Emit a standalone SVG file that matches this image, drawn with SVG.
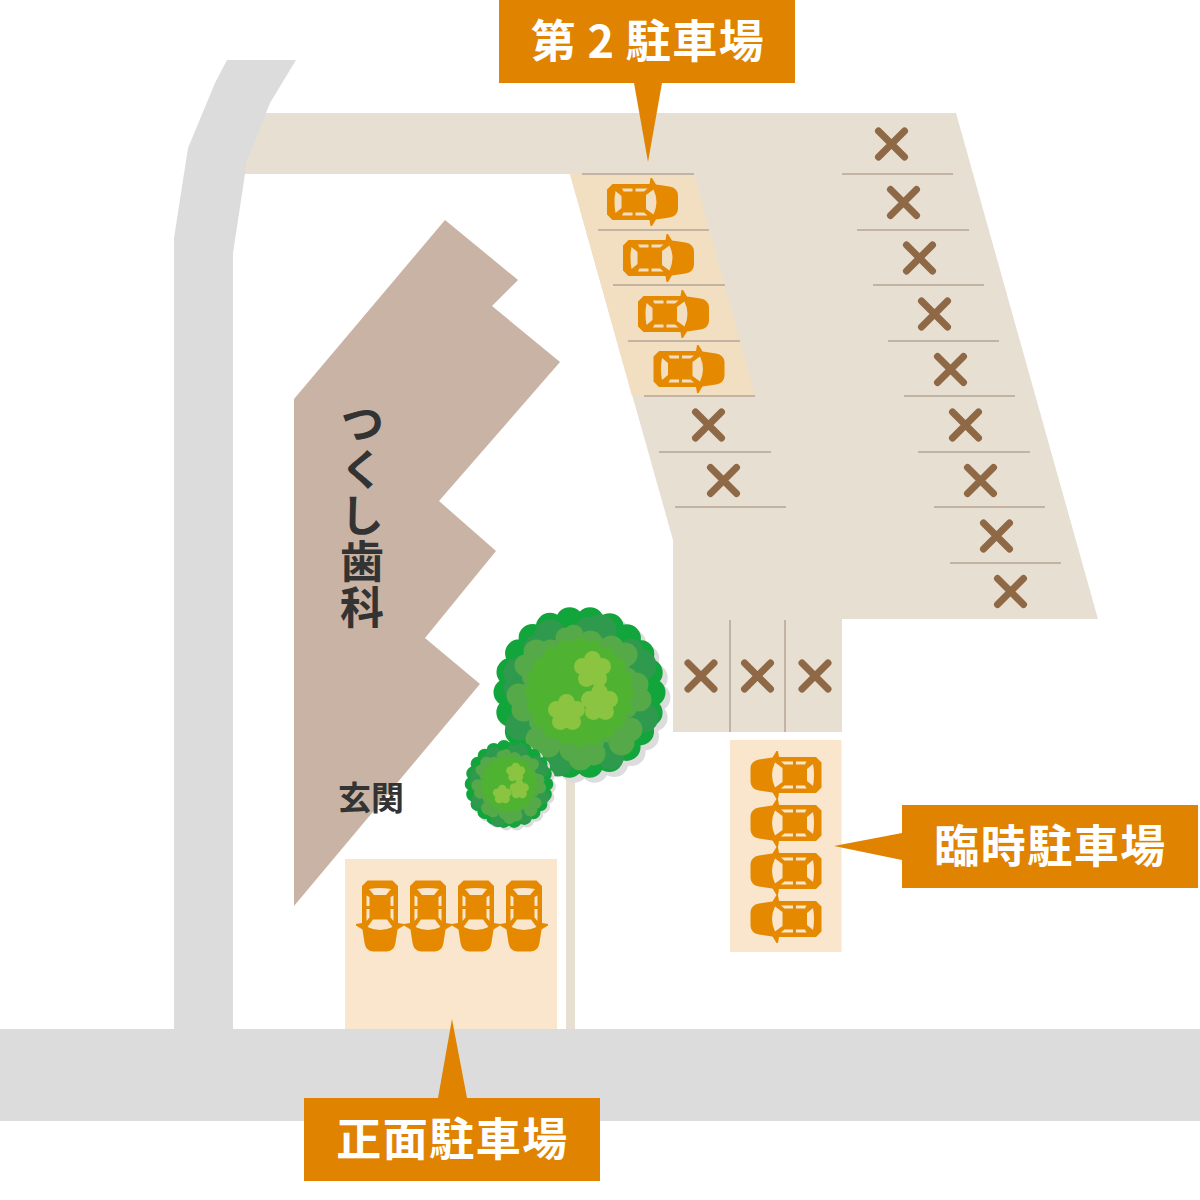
<svg xmlns="http://www.w3.org/2000/svg" xmlns:xlink="http://www.w3.org/1999/xlink" width="1200" height="1200" viewBox="0 0 1200 1200">
<style>
.road{fill:#dcdcdc}
.lot{fill:#e6dfd2}
.sl{stroke:#c3b3a3;stroke-width:2;fill:none}
.x{stroke:#8f6846;stroke-width:7;stroke-linecap:round;fill:none}
.lab{fill:#e08300}
.lt{fill:#fff;font-family:"Noto Sans CJK JP","Noto Sans",sans-serif;font-weight:700;font-size:45px;letter-spacing:1.500px;text-anchor:middle}
.dk{fill:#333;font-family:"Noto Sans CJK JP","Noto Sans",sans-serif;font-weight:700}
</style>
<defs>
<path id="xm" class="x" d="M-13,-13L13,13M13,-13L-13,13"/>
<g id="car">
<path fill="#e58a00" d="M-30,-18H7L8,-24L9.500,-24L13.500,-17.500L27,-15.500Q35,-14 35.500,-7V7Q35,14 27,15.500L13.500,17.500L9.500,24L8,24L7,18H-30L-35.500,12.500V-12.500Z"/>
<g fill="currentColor">
<path d="M3.500,-7L11,-12.500Q17,0 11,12.500L3.500,7Z"/>
<path d="M-27,-11L-21,-6V6L-27,11Q-29,0 -27,-11Z"/>
<path d="M-20.500,-13.500H-10V-10.500H-19Z"/>
<path d="M-7,-13.500H5L1.500,-10.500H-7Z"/>
<path d="M-20.500,13.500H-10V10.500H-19Z"/>
<path d="M-7,13.500H5L1.500,10.500H-7Z"/>
</g>
</g>
<g id="blob">
<circle r="72"/>
<circle r="72" fill="none" stroke="currentColor" stroke-width="28" stroke-linecap="round" stroke-dasharray="0 20.550"/>
</g>
<g id="flower"><circle r="11"/><circle cy="-10" r="8.500"/><circle cx="10" cy="-3" r="8.500"/><circle cx="6" cy="9" r="8.500"/><circle cx="-6" cy="9" r="8.500"/><circle cx="-10" cy="-3" r="8.500"/></g>
<g id="tree">
<use xlink:href="#blob" href="#blob" x="5" y="5" fill="#dcdcdc" color="#dcdcdc"/>
<use xlink:href="#blob" href="#blob" fill="#12a53c" color="#12a53c"/>
<g fill="#2f9a4e">
<circle cx="-29" cy="-57" r="16"/><circle cx="-42" cy="-44" r="14"/><circle cx="21" cy="-62" r="16"/><circle cx="8" cy="-64" r="12"/><circle cx="-61" cy="-20" r="15"/><circle cx="-64" cy="-4" r="12"/><circle cx="61" cy="-27" r="16"/><circle cx="52" cy="-42" r="12"/><circle cx="-59" cy="33" r="15"/><circle cx="64" cy="25" r="15"/><circle cx="31" cy="63" r="14"/><circle cx="-21" cy="70" r="14"/>
</g>
<circle r="50" fill="#56a948"/>
<circle r="50" fill="none" stroke="#56a948" stroke-width="20" stroke-linecap="round" stroke-dasharray="0 15.700"/>
<g fill="#56a948">
<circle cx="-43" cy="-40" r="13"/><circle cx="-54" cy="-27" r="11"/><circle cx="-61" cy="3" r="12"/><circle cx="-56" cy="17" r="12"/><circle cx="-41" cy="47" r="13"/><circle cx="-31" cy="53" r="12"/><circle cx="-8" cy="57" r="12"/><circle cx="1" cy="66" r="12"/><circle cx="14" cy="61" r="12"/><circle cx="42" cy="50" r="13"/><circle cx="51" cy="37" r="12"/><circle cx="60" cy="7" r="12"/><circle cx="57" cy="-8" r="12"/><circle cx="46" cy="-38" r="12"/><circle cx="32" cy="-45" r="12"/><circle cx="11" cy="-50" r="12"/><circle cx="-6" cy="-58" r="10"/><circle cx="-14" cy="-55" r="10"/><circle cx="-29" cy="-42" r="11"/>
</g>
<circle r="46" fill="#4fb331"/>
<circle r="46" fill="none" stroke="#4fb331" stroke-width="17" stroke-linecap="round" stroke-dasharray="0 14.450"/>
<g fill="#8bc440">
<use xlink:href="#flower" href="#flower" transform="translate(13,-23)"/>
<use xlink:href="#flower" href="#flower" transform="translate(20,10)"/>
<use xlink:href="#flower" href="#flower" transform="translate(-13,20)"/>
</g>
</g>
</defs>
<g id="parking-lot">
<path class="lot" d="M255,113H956L1098,619H842V732H673V540L570,174H240Z"/>
<path fill="#f2dfc1" d="M570,174H694L755,396H632Z"/>
<rect x="566" y="770" width="9" height="260" fill="#e6dfd2"/>
</g>
<g id="roads">
<rect class="road" x="0" y="1029" width="1200" height="92"/>
<path class="road" d="M227,60H296L270,103L246,163L245,174L233,253V1030H174V238L188,148L215,83Z"/>
</g>
<g id="parking-lines">
<path class="sl" d="M582,174H694M598,230H709M613,285H725M628,341H740M644,396H755M659,452H771M675,507H786M842,174H953M857,230H969M873,285H984M888,341H999M904,396H1015M918,452H1030M934,507H1045M950,563H1061M730,620V732M785,620V732"/>
</g>
<g id="blocked-spaces">
<use xlink:href="#xm" href="#xm" x="891.500" y="144"/>
<use xlink:href="#xm" href="#xm" x="903.500" y="202.500"/>
<use xlink:href="#xm" href="#xm" x="919.500" y="258"/>
<use xlink:href="#xm" href="#xm" x="934.500" y="314"/>
<use xlink:href="#xm" href="#xm" x="950.500" y="369.500"/>
<use xlink:href="#xm" href="#xm" x="965.500" y="425"/>
<use xlink:href="#xm" href="#xm" x="980.500" y="480.500"/>
<use xlink:href="#xm" href="#xm" x="996.500" y="536"/>
<use xlink:href="#xm" href="#xm" x="1010.500" y="591.500"/>
<use xlink:href="#xm" href="#xm" x="708.500" y="425"/>
<use xlink:href="#xm" href="#xm" x="723.500" y="480.500"/>
<use xlink:href="#xm" href="#xm" x="701" y="676"/>
<use xlink:href="#xm" href="#xm" x="757.500" y="676"/>
<use xlink:href="#xm" href="#xm" x="815" y="676"/>
</g>
<g id="building">
<path fill="#c9b3a5" d="M445,220L518,280L492,306L560,362L439,501L496,551L425,638L480,684L294,906V399Z"/>
<text class="dk" font-size="44" letter-spacing="2" x="362" y="401" style="writing-mode:vertical-rl">つくし歯科</text>
<text class="dk" font-size="33" x="371" y="810" text-anchor="middle">玄関</text>
</g>
<g id="front-parking">
<rect x="345" y="859" width="212" height="170" fill="#fae5cd"/>
<g color="#fae5cd">
<use xlink:href="#car" href="#car" transform="translate(380,916) rotate(90)"/>
<use xlink:href="#car" href="#car" transform="translate(428,916) rotate(90)"/>
<use xlink:href="#car" href="#car" transform="translate(476,916) rotate(90)"/>
<use xlink:href="#car" href="#car" transform="translate(524,916) rotate(90)"/>
</g>
</g>
<g id="temp-parking">
<rect x="730" y="740" width="111.500" height="212" fill="#fae5cd"/>
<g color="#fae5cd">
<use xlink:href="#car" href="#car" transform="translate(786,775) rotate(180)"/>
<use xlink:href="#car" href="#car" transform="translate(786,823) rotate(180)"/>
<use xlink:href="#car" href="#car" transform="translate(786,871) rotate(180)"/>
<use xlink:href="#car" href="#car" transform="translate(786,919) rotate(180)"/>
</g>
</g>
<g id="second-parking-cars" color="#f2dfc1">
<use xlink:href="#car" href="#car" transform="translate(642.500,202)"/>
<use xlink:href="#car" href="#car" transform="translate(658.500,258)"/>
<use xlink:href="#car" href="#car" transform="translate(673.500,314)"/>
<use xlink:href="#car" href="#car" transform="translate(689,369)"/>
</g>
<g id="trees">
<use xlink:href="#tree" href="#tree" transform="translate(579.500,692.500)"/>
<use xlink:href="#tree" href="#tree" transform="translate(509,784) scale(.515)"/>
</g>
<g id="label-second">
<path class="lab" d="M499,0H795V83H662L648,162L634,83H499Z"/>
<text class="lt" x="648" y="58" word-spacing="-1.500">第 2 駐車場</text>
</g>
<g id="label-temp">
<path class="lab" d="M902,805H1198V888H902V860L834,846L902,833Z"/>
<text class="lt" x="1050.500" y="863">臨時駐車場</text>
</g>
<g id="label-front">
<path class="lab" d="M304,1098H438L452,1019L467,1098H600V1181H304Z"/>
<text class="lt" x="452.500" y="1156">正面駐車場</text>
</g>
</svg>
